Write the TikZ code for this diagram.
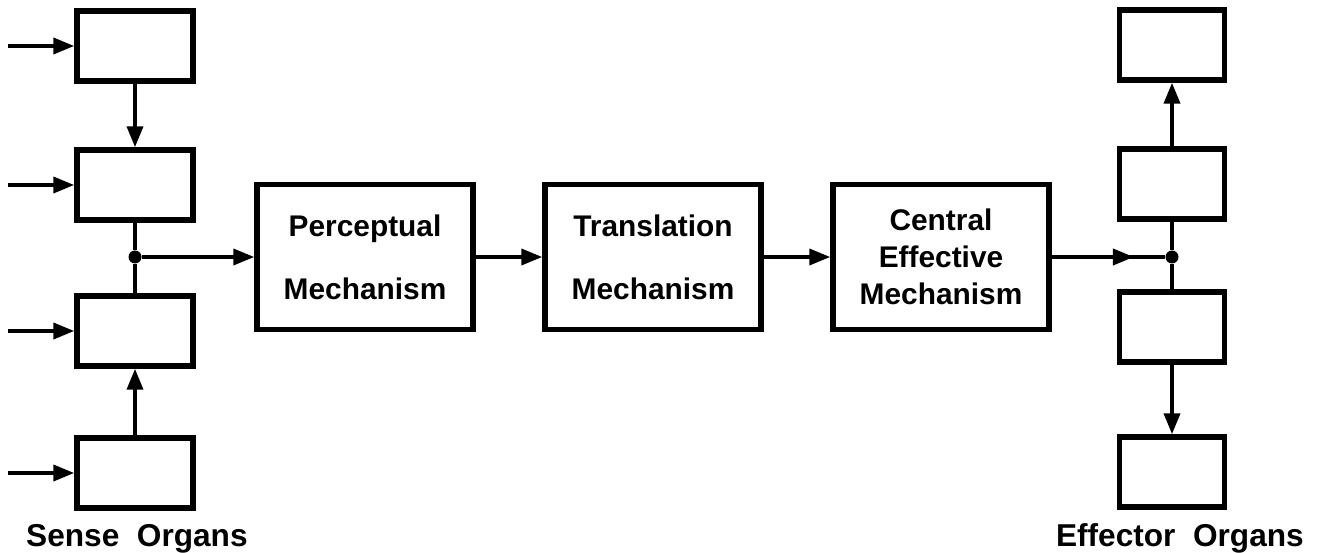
\documentclass[tikz,border=0pt]{standalone}
\usepackage{fontspec}
\setmainfont{Liberation Sans}
\usetikzlibrary{arrows.meta}

\begin{document}
\begin{tikzpicture}
  [
    x=0.02cm, y=-0.02cm,
    organ/.style={draw, line width=3pt, minimum width=2.32cm, minimum height=1.4cm, inner sep=0pt},
    effector/.style={organ, minimum width=2.1cm},
    mech/.style={draw, line width=3pt, minimum width=4.32cm, minimum height=2.9cm, inner sep=0pt,
      align=center, font=\bfseries\fontsize{17}{36}\selectfont},
    conn/.style={line width=2.4pt},
    tip/.style={-{Triangle[length=12pt,width=9pt]}},
    dot/.style={circle, fill=black, inner sep=0pt, minimum size=0.26cm},
    caption/.style={font=\bfseries\fontsize{18}{20}\selectfont}
  ]
  \useasboundingbox (0,0) rectangle (1327,553);
  % sense organs with their inputs
  \foreach \n/\y in {1/46,2/185,3/331,4/473} {
    \node [organ] (s\n) at (135,\y) {};
    \coordinate (in\n) at (8,\y);
    \draw [conn,tip] (in\n) -- (s\n);
  }
  % mechanisms
  \node [mech] (perc) at (365,257) {Perceptual\\Mechanism};
  \node [mech] (trans) at (653,257) {Translation\\Mechanism};
  \node [mech, font=\bfseries\fontsize{17}{21}\selectfont] (cent) at (941,257) {Central\\Effective\\Mechanism};
  % effector organs
  \foreach \n/\y in {1/45,2/184,3/327,4/472} {
    \node [effector] (e\n) at (1172,\y) {};
  }
  % junctions
  \node [dot] (jl) at (s2 |- perc) {};
  \node [dot] (jr) at (e2 |- cent) {};
  \coordinate (tipr) at (1134,257);
  % left side
  \draw [conn,tip] (s1) -- (s2);
  \draw [conn] (s2) -- (jl) -- (s3);
  \draw [conn,tip] (s4) -- (s3);
  \draw [conn,tip] (jl) -- (perc);
  % chain
  \draw [conn,tip] (perc) -- (trans);
  \draw [conn,tip] (trans) -- (cent);
  \draw [conn] (cent) -- (jr);
  \draw [conn,tip] (cent) -- (tipr);
  % right side
  \draw [conn,tip] (e2) -- (e1);
  \draw [conn] (e2) -- (jr) -- (e3);
  \draw [conn,tip] (e3) -- (e4);
  % captions
  \node [caption, anchor=base west] (sense) at (20,546) {Sense\ \ Organs};
  \node [caption, anchor=base east] (effect) at (1310,546) {Effector\ \ Organs};
\end{tikzpicture}
\end{document}
